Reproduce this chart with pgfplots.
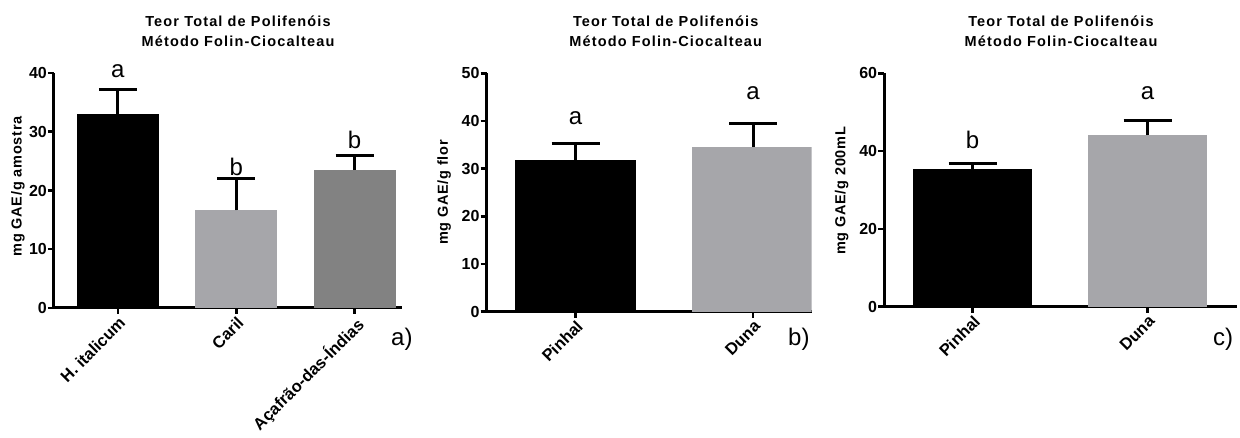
\documentclass[border=0pt]{standalone}
\usepackage{pgfplots}
\pgfplotsset{compat=1.18}
\usepackage{fontspec}
\setmainfont{Liberation Sans}
\newfontfamily\gpls{Liberation Sans}[LetterSpace=8]
\newfontfamily\gplt{Liberation Sans}[LetterSpace=5]
\definecolor{gplight}{RGB}{166,166,170}
\definecolor{gpdark}{RGB}{130,130,130}
\newcommand{\titlefont}{\gpls\bfseries\fontsize{14.5}{17}\selectfont}
\newcommand{\labfont}{\bfseries\fontsize{16.5}{18}\selectfont}
\newcommand{\ylabfont}{\gplt\bfseries\fontsize{14.5}{18}\selectfont}
\newcommand{\tickfont}{\bfseries\fontsize{16}{18}\selectfont}
\newcommand{\letfont}{\fontsize{24}{26}\selectfont}
\pgfplotsset{gp/.style={
  scale only axis,
  axis x line=bottom, axis y line=left,
  axis line style={-, line width=3pt, black},
  tick align=outside, major tick length=6pt,
  tick style={line width=2.5pt, black},
  xtick={0,1,2}, ymin=0,
  /pgf/number format/assume math mode=true,
  yticklabel style={font=\tickfont, inner sep=1pt},
  xticklabel style={font=\labfont, rotate=45, anchor=north east, inner sep=1pt},
  ylabel style={font=\ylabfont, anchor=center},
}, bar/.style n args={3}{ybar, bar width=#2, bar shift=0pt, draw=none, fill=#1,
  error bars/.cd, y dir=plus, y explicit, error mark=|,
  error bar style={line width=3pt, black},
  error mark options={line width=3pt, mark size=#3, black},
}, lett/.style={draw=none, mark=none, nodes near coords, point meta=explicit symbolic,
  nodes near coords style={anchor=base, font=\letfont, inner sep=0pt, text=black}}
}
\begin{document}
\begin{tikzpicture}
\useasboundingbox (0,0) rectangle (1240pt,438pt);
% panel a
\begin{axis}[gp, at={(54pt,130pt)}, anchor=south west, width=348pt, height=235pt,
  xmin=-0.54, xmax=2.4, ymax=40, ytick={0,10,20,30,40},
  xticklabels={H. italicum, Caril, Açafrão-das-Índias},
  ylabel={mg GAE/g amostra},
  ylabel style={at={(axis description cs:-0.1034,0.517)}}]
\addplot[bar={black}{82pt}{19pt}] coordinates {(0,33.0) +- (0,4.2)};
\addplot[bar={gplight}{82pt}{19pt}] coordinates {(1,16.6) +- (0,5.4)};
\addplot[bar={gpdark}{82pt}{19pt}] coordinates {(2,23.5) +- (0,2.4)};
\addplot[lett] coordinates {(0,39.2)[a] (1,22.6)[b] (2,27.1)[b]};
\end{axis}
% panel b
\begin{axis}[gp, at={(486.7pt,126.3pt)}, anchor=south west, width=325pt, height=238.4pt,
  xmin=-0.5, xmax=1.33, ymax=50, ytick={0,10,20,30,40,50}, xtick={0,1},
  xticklabels={Pinhal, Duna},
  ylabel={mg GAE/g flor},
  ylabel style={at={(axis description cs:-0.131,0.5)}}]
\addplot[bar={black}{121.7pt}{24pt}] coordinates {(0,31.8) +- (0,3.4)};
\addplot[bar={gplight}{121.7pt}{24pt}] coordinates {(1,34.5) +- (0,4.9)};
\addplot[lett] coordinates {(0,39.2)[a] (1,44.4)[a]};
\end{axis}
% panel c
\begin{axis}[gp, at={(884.3pt,131.3pt)}, anchor=south west, width=352.4pt, height=233.4pt,
  xmin=-0.505, xmax=1.51, ymax=60, ytick={0,20,40,60}, xtick={0,1},
  xticklabels={Pinhal, Duna},
  ylabel={mg GAE/g 200mL},
  ylabel style={at={(axis description cs:-0.121,0.496)}}]
\addplot[bar={black}{119.4pt}{24pt}] coordinates {(0,35.4) +- (0,1.3)};
\addplot[bar={gplight}{119.4pt}{24pt}] coordinates {(1,44.1) +- (0,3.7)};
\addplot[lett] coordinates {(0,40.7)[b] (1,53.2)[a]};
\end{axis}
% titles
\foreach \cx in {238, 665.7, 1061} {
  \node[anchor=base, inner sep=0pt, font=\titlefont] at (\cx pt,411.3pt) {Teor Total de Polifenóis};
  \node[anchor=base, inner sep=0pt, font=\titlefont] at (\cx pt,391.3pt) {Método Folin-Ciocalteau};
}
\node[anchor=base west, inner sep=0pt, font=\letfont] at (391pt,92pt) {a)};
\node[anchor=base west, inner sep=0pt, font=\letfont] at (788pt,92pt) {b)};
\node[anchor=base west, inner sep=0pt, font=\letfont] at (1213pt,92pt) {c)};
\end{tikzpicture}
\end{document}
